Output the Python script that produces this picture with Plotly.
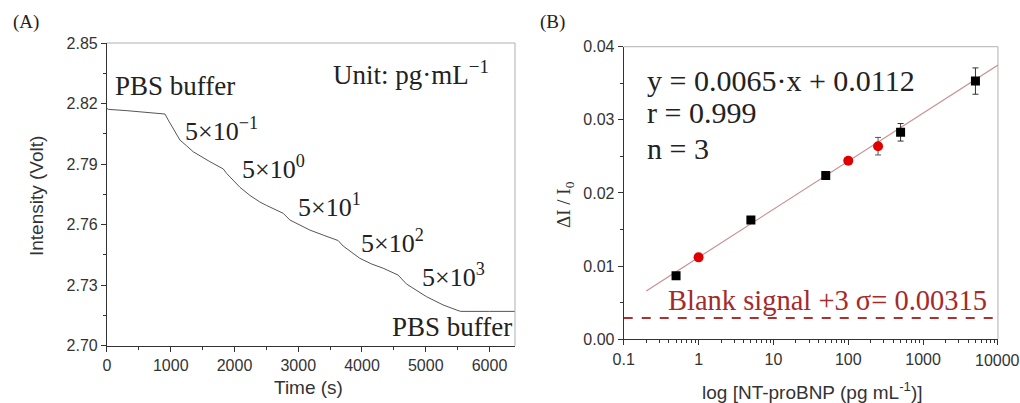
import plotly.graph_objects as go

# ---- Panel A data ----
time_s = [0, 20, 300, 600, 909, 961, 1050, 1144, 1250, 1353, 1614, 1823, 1876, 1975, 2085, 2241,
          2398, 2503, 2650, 2764, 2868, 3025, 3182, 3400, 3626, 3704, 3966, 4150, 4331, 4566,
          4697, 5011, 5272, 5507, 5550, 6000, 6400]
intensity = [2.8176, 2.8171, 2.8165, 2.8158, 2.8148, 2.8118, 2.8069, 2.8019, 2.7990, 2.7961, 2.7912,
             2.7876, 2.7854, 2.7821, 2.7785, 2.7745, 2.7712, 2.7695, 2.7675, 2.7656, 2.7623, 2.7597,
             2.7573, 2.7547, 2.7521, 2.7494, 2.7433, 2.7405, 2.7384, 2.7350, 2.7306, 2.7243, 2.7202,
             2.7174, 2.7170, 2.7170, 2.7170]

# ---- Panel B data ----
sq_conc = [0.5, 5, 50, 500, 5000]
sq_val = [0.0087, 0.0163, 0.0224, 0.0283, 0.0353]
sq_err = [0.0003, 0.0003, 0.0003, 0.0012, 0.0018]
rd_conc = [1, 100, 250]
rd_val = [0.0112, 0.0244, 0.0264]
rd_err = [0.0003, 0.0003, 0.0012]
fit_x = [0.2, 10000]
fit_y = [0.0066, 0.0375]
blank_x = [0.1, 10000]
blank_y = [0.0029, 0.0029]
b_tickvals = [0.1, 1, 10, 100, 1000, 10000]
b_ticktext = ["0.1", "1", "10", "100", "1000", ""]

SERIF = "Liberation Serif"
SANS = "Liberation Sans"
AX = "#333333"

fig = go.Figure()
fig.add_trace(go.Scatter(x=time_s, y=intensity, mode="lines",
                         line=dict(color="#555555", width=1), xaxis="x", yaxis="y",
                         showlegend=False))

fig.add_trace(go.Scatter(x=fit_x, y=fit_y, mode="lines", line=dict(color="#c99090", width=1.2),
                         xaxis="x2", yaxis="y2", showlegend=False))
fig.add_trace(go.Scatter(x=blank_x, y=blank_y, mode="lines",
                         line=dict(color="#b03030", width=2, dash="dash"),
                         xaxis="x2", yaxis="y2", showlegend=False))
fig.add_trace(go.Scatter(x=sq_conc, y=sq_val, mode="markers",
                         marker=dict(symbol="square", size=9, color="black"),
                         error_y=dict(type="data", array=sq_err, color="#333333", thickness=1, width=3),
                         xaxis="x2", yaxis="y2", showlegend=False))
fig.add_trace(go.Scatter(x=rd_conc, y=rd_val, mode="markers",
                         marker=dict(symbol="circle", size=10, color="#e00000"),
                         error_y=dict(type="data", array=rd_err, color="#555555", thickness=1, width=3),
                         xaxis="x2", yaxis="y2", showlegend=False))

tickfont = dict(family=SANS, size=16, color=AX)
common = dict(showline=True, linecolor=AX, linewidth=1.2, ticks="outside", ticklen=5,
              tickcolor=AX, tickfont=tickfont, showgrid=False, zeroline=False, mirror=False,
              automargin=False)

fig.update_layout(
    template="none",
    width=1020, height=403, margin=dict(l=0, r=0, t=0, b=0),
    paper_bgcolor="white", plot_bgcolor="white",
    xaxis=dict(domain=[0.1049, 0.5049], range=[0, 6400], dtick=1000, anchor="y",
               minor=dict(ticks="outside", ticklen=3, dtick=500, tickcolor=AX),
               **common),
    yaxis=dict(domain=[0.1422, 0.8933], range=[2.70, 2.85], dtick=0.03, tickformat=".2f",
               anchor="x", minor=dict(ticks="outside", ticklen=3, dtick=0.015, tickcolor=AX),
               **common),
    xaxis2=dict(domain=[0.6115, 0.9784], type="log", range=[-1, 4], anchor="y2",
                tickvals=b_tickvals, ticktext=b_ticktext,
                minor=dict(ticks="outside", ticklen=3, dtick="D1", tickcolor=AX),
                **common),
    yaxis2=dict(domain=[0.1581, 0.8841], range=[0, 0.04], dtick=0.01, tickformat=".2f",
                anchor="x2", minor=dict(ticks="outside", ticklen=3, dtick=0.005, tickcolor=AX),
                **common),
)

# light frame (top/right) for both panels
for xd, yd in [((0.1049, 0.5049), (0.1422, 0.8933)), ((0.6115, 0.9784), (0.1581, 0.8841))]:
    fig.add_shape(type="line", xref="paper", yref="paper", x0=xd[0], x1=xd[1], y0=yd[1], y1=yd[1],
                  line=dict(color="#b0b0b0", width=1))
    fig.add_shape(type="line", xref="paper", yref="paper", x0=xd[1], x1=xd[1], y0=yd[0], y1=yd[1],
                  line=dict(color="#b0b0b0", width=1))

def ann(text, x, y, size=26, color="#222222", xanchor="left", family=SERIF, angle=0):
    fig.add_annotation(text=text, x=x / 1020, y=1 - y / 403, xref="paper", yref="paper",
                       xanchor=xanchor, yanchor="middle", showarrow=False, textangle=angle,
                       font=dict(family=family, size=size, color=color))

# panel labels
ann("(A)", 11, 22, size=19)
ann("(B)", 538, 22, size=19)

# last log tick label, clipped by the page edge as in the original
fig.add_annotation(text="10000", x=4, xref="x2", y=1 - 360 / 403, yref="paper",
                   xanchor="center", yanchor="middle", showarrow=False,
                   font=dict(family=SANS, size=16, color=AX))

# axis titles
ann("Time (s)", 308, 387, size=19, family=SANS, color=AX, xanchor="center")
ann("Intensity (Volt)", 37, 196, size=19, family=SANS, color=AX, xanchor="center", angle=-90)
ann("log [NT-proBNP (pg mL<sup>-1</sup>)]", 812, 391, size=19, family=SANS, color=AX, xanchor="center")
ann("ΔI / I<sub>0</sub>", 565, 205, size=19, family=SERIF, color=AX, xanchor="center", angle=-90)

# panel A labels
ann("PBS buffer", 113, 86, size=27)
ann("Unit: pg·mL<sup>−1</sup>", 331, 73, size=27)
ann("5×10<sup>−1</sup>", 183, 130, size=26)
ann("5×10<sup>0</sup>", 240, 167, size=26)
ann("5×10<sup>1</sup>", 296, 205, size=26)
ann("5×10<sup>2</sup>", 359, 241, size=26)
ann("5×10<sup>3</sup>", 420, 275, size=26)
ann("PBS buffer", 514, 327, size=27, xanchor="right")

# panel B labels
ann("y = 0.0065·x + 0.0112", 645, 80, size=30)
ann("r = 0.999", 645, 113, size=30)
ann("n = 3", 645, 148, size=30)
ann("Blank signal +3 σ= 0.00315", 666, 300, size=28.5, color="#a52a2a")

fig.write_html("out.html")
